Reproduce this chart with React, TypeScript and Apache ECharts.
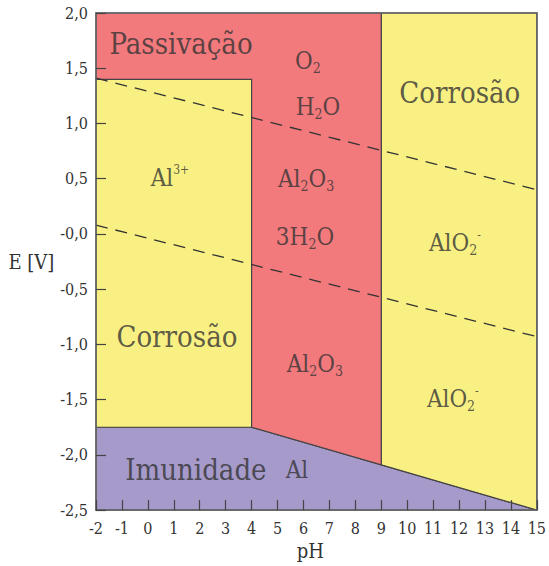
import React, { useEffect, useRef } from "react";
import * as echarts from "echarts";

// Axis ticks
const yTickValues = [-2.5, -2.0, -1.5, -1.0, -0.5, 0.0, 0.5, 1.0, 1.5, 2.0];
const yTickLabels = ["-2,5", "-2,0", "-1,5", "-1,0", "-0,5", "-0,0", "0,5", "1,0", "1,5", "2,0"];

// Regions of the Pourbaix diagram: [pH, E]
const immunityRegion = [[-2, -1.75], [4, -1.75], [9, -2.09], [15, -2.5], [-2, -2.5]];
const acidCorrosionRegion = [[-2, 1.4], [4, 1.4], [4, -1.75], [-2, -1.75]];
const alkalineCorrosionRegion = [[9, 2.0], [15, 2.0], [15, -2.5], [9, -2.09]];
const passivationRegion = [[-2, 2.0], [9, 2.0], [9, -2.09], [4, -1.75], [4, 1.4], [-2, 1.4]];

// Water stability lines
const oxygenLine = [[-2, 1.41], [15, 0.40]];
const hydrogenLine = [[-2, 0.08], [15, -0.93]];

// Region labels: [pH, E, rich text]
const regionLabels = [
  [1.28, 1.72, "{big|Passivação}"],
  [6.17, 1.57, "{m|O}{sub|2}"],
  [6.56, 1.15, "{m|H}{sub|2}{m|O}"],
  [12.03, 1.28, "{big|Corrosão}"],
  [0.85, 0.51, "{m|Al}{sup|3+}"],
  [6.1, 0.5, "{m|Al}{sub|2}{m|O}{sub|3}"],
  [6.06, -0.03, "{m|3H}{sub|2}{m|O}"],
  [11.84, -0.08, "{m|AlO}{sub|2}{sup|-}"],
  [1.12, -0.93, "{big|Corrosão}"],
  [6.44, -1.18, "{m|Al}{sub|2}{m|O}{sub|3}"],
  [11.76, -1.49, "{m|AlO}{sub|2}{sup|-}"],
  [1.85, -2.14, "{big|Imunidade}"],
  [5.75, -2.14, "{m|Al}"],
];

const SERIF = "DejaVu Serif Condensed, DejaVu Serif";
const TEXT = "#333333";
const RED = "#F27A7D";
const YELLOW = "#F9F083";
const PURPLE = "#A69ACB";

const regionPolys = [immunityRegion, acidCorrosionRegion, alkalineCorrosionRegion, passivationRegion];
const regionColors = [PURPLE, YELLOW, YELLOW, RED];

export default function App() {
  const ref = useRef<HTMLDivElement>(null);
  useEffect(() => {
    if (!ref.current) return;
    const chart = echarts.init(ref.current, undefined, { renderer: "svg" });
    const axisLine = { show: true, onZero: false, lineStyle: { color: "#666666", width: 1.5 } };
    chart.setOption({
      animation: false,
      backgroundColor: "#ffffff",
      grid: { left: 96, right: 12, top: 13, bottom: 51 },
      xAxis: [
        {
          type: "value",
          min: -2,
          max: 15,
          interval: 1,
          z: 10,
          name: "pH",
          nameLocation: "middle",
          nameGap: 29,
          nameTextStyle: { fontFamily: SERIF, fontSize: 20, color: TEXT, padding: [0, 12, 0, 0] },
          axisLine,
          axisTick: { show: true, inside: true, length: 10, lineStyle: { color: "#444", width: 1.2 } },
          axisLabel: { fontFamily: SERIF, fontSize: 16, color: TEXT, margin: 10 },
          splitLine: { show: false },
        },
        {
          type: "value",
          position: "top",
          min: -2,
          max: 15,
          z: 10,
          axisLine,
          axisTick: { show: false },
          axisLabel: { show: false },
          splitLine: { show: false },
        },
      ],
      yAxis: [
        {
          type: "value",
          min: -2.5,
          max: 2.0,
          interval: 0.5,
          z: 10,
          name: "E [V]",
          nameLocation: "middle",
          nameRotate: 0,
          nameGap: 29,
          nameTextStyle: { fontFamily: SERIF, fontSize: 20, color: TEXT, padding: [6, 0, 0, 0] },
          axisLine,
          axisTick: { show: true, inside: true, length: 10, lineStyle: { color: "#444", width: 1.2 } },
          axisLabel: {
            fontFamily: SERIF,
            fontSize: 16,
            color: TEXT,
            margin: 8,
            padding: [3, 0, 0, 0],
            formatter: (v: number) => {
              const i = yTickValues.findIndex((t) => Math.abs(t - v) < 1e-6);
              return i >= 0 ? yTickLabels[i] : "";
            },
          },
          splitLine: { show: false },
        },
        {
          type: "value",
          position: "right",
          min: -2.5,
          max: 2.0,
          z: 10,
          axisLine,
          axisTick: { show: false },
          axisLabel: { show: false },
          splitLine: { show: false },
        },
      ],
      series: [
        {
          type: "custom",
          z: 1,
          silent: true,
          data: regionPolys.map((p, i) => [p[0][0], p[0][1], i]),
          renderItem: (params: any, api: any) => {
            const poly = regionPolys[params.dataIndex];
            return {
              type: "polygon",
              shape: { points: poly.map((pt) => api.coord(pt)) },
              style: { fill: regionColors[params.dataIndex], stroke: "#444444", lineWidth: 1.2 },
            };
          },
        },
        {
          type: "line",
          z: 3,
          data: oxygenLine,
          symbol: "none",
          silent: true,
          lineStyle: { color: "#333333", width: 1.3, type: [12, 8] },
        },
        {
          type: "line",
          z: 3,
          data: hydrogenLine,
          symbol: "none",
          silent: true,
          lineStyle: { color: "#333333", width: 1.3, type: [12, 8] },
        },
        {
          type: "scatter",
          z: 5,
          symbolSize: 0,
          silent: true,
          data: regionLabels.map((l) => [l[0], l[1], l[2]]),
          label: {
            show: true,
            position: "inside",
            formatter: (p: any) => p.value[2],
            fontFamily: SERIF,
            color: TEXT,
            rich: {
              big: { fontFamily: SERIF, fontSize: 29, color: TEXT, lineHeight: 34 },
              m: { fontFamily: SERIF, fontSize: 24, color: TEXT, lineHeight: 28 },
              sub: { fontFamily: SERIF, fontSize: 14, color: TEXT, lineHeight: 13, verticalAlign: "bottom" },
              sup: { fontFamily: SERIF, fontSize: 12, color: TEXT, lineHeight: 12, verticalAlign: "top" },
            },
          },
        },
      ],
    });
    return () => chart.dispose();
  }, []);
  return <div ref={ref} style={{ width: 549, height: 566, position: "absolute", left: 0, top: 0 }} />;
}
